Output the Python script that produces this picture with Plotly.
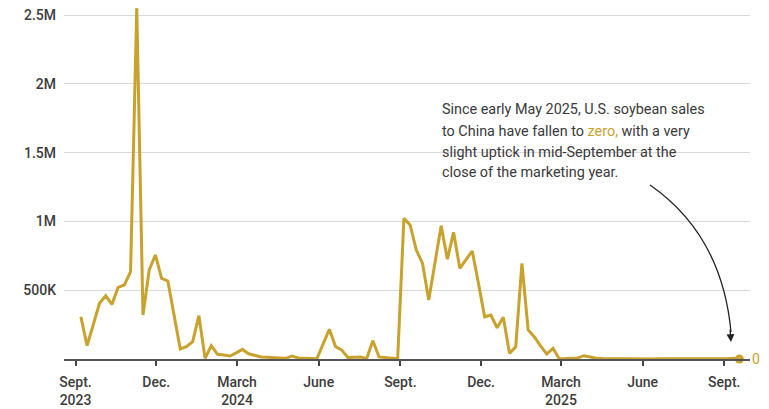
import pandas as pd
import plotly.graph_objects as go

# Weekly U.S. soybean export sales to China (metric tons), Sept 2023 - Sept 2025
week_start = "2023-09-07"
sales_k = [
    307, 97, 250, 405, 460, 397, 521, 538, 634, 2550,
    320, 647, 756, 586, 567, 320, 73, 89, 126, 315,
    5, 97, 34, 29, 22, 45, 70, 38, 25, 15,
    12, 12, 8, 5, 22, 8, 5, 3, 2, 110,
    216, 90, 65, 10, 12, 15, 2, 133, 15, 10,
    8, 2, 1022, 974, 792, 695, 429, 700, 969, 725,
    921, 659, 720, 785, 550, 307, 320, 227, 303, 41,
    89, 695, 211, 160, 95, 36, 78, 2, 3, 4,
    8, 24, 12, 5, 3, 2, 3, 2, 1, 1,
    2, 1, 0, 1, 2, 1, 1, 0, 1, 2,
    1, 0, 1, 1, 2, 6, 0,
]
sales = [v * 1000 for v in sales_k]
weeks = pd.date_range(week_start, periods=len(sales), freq="7D")

x_tick_dates = ["2023-09-01", "2023-12-01", "2024-03-01", "2024-06-01", "2024-09-01",
                "2024-12-01", "2025-03-01", "2025-06-01", "2025-09-01"]
x_tick_labels = ["Sept.<br>2023", "Dec.", "March<br>2024", "June", "Sept.",
                 "Dec.", "March<br>2025", "June", "Sept."]
y_tick_vals = [500000, 1000000, 1500000, 2000000, 2500000]
y_tick_labels = ["500K", "1M", "1.5M", "2M", "2.5M"]

note_lines = [
    "Since early May 2025, U.S. soybean sales",
    "to China have fallen to <span style='color:#C9A22E'>zero,</span> with a very",
    "slight uptick in mid-September at the",
    "close of the marketing year.",
]

GOLD = "#C9A22E"
TEXT = "#3d3d3d"
FONT = "Roboto"

fig = go.Figure()
fig.add_trace(go.Scatter(
    x=weeks, y=sales, mode="lines",
    line=dict(color=GOLD, width=3),
    hoverinfo="skip", showlegend=False,
))
fig.add_trace(go.Scatter(
    x=[weeks[-1]], y=[sales[-1]], mode="markers",
    marker=dict(color=GOLD, size=9),
    hoverinfo="skip", showlegend=False, cliponaxis=False,
))

# end-of-series value label
fig.add_annotation(
    x=weeks[-1], y=sales[-1], text=f"{sales[-1]:,}", showarrow=False,
    xanchor="left", yanchor="middle", xshift=11,
    font=dict(family=FONT, size=14, color=GOLD),
)

# explanatory note
note_y = [0.7034, 0.644, 0.5847, 0.5282]
for line, yy in zip(note_lines, note_y):
    fig.add_annotation(
        xref="paper", yref="paper", x=0.548, y=yy, text=line,
        showarrow=False, xanchor="left", yanchor="middle", align="left",
        font=dict(family=FONT, size=14.4, color="#3a3a3a"),
    )

# curved pointer from the note down to the final week
fig.add_shape(
    type="path", xref="paper", yref="paper",
    path="M 0.8542,0.4915 Q 0.9592,0.3503 0.9723,0.0763",
    line=dict(color="#222222", width=1.3),
)
fig.add_annotation(
    xref="paper", yref="paper", x=0.9723, y=0.048, text="",
    showarrow=True, ax=-1, ay=-14, arrowhead=2, arrowsize=1.2,
    arrowwidth=1.3, arrowcolor="#222222",
)

fig.update_layout(
    width=769, height=409,
    margin=dict(l=64, r=19, t=5, b=50),
    paper_bgcolor="white", plot_bgcolor="white",
    font=dict(family=FONT, size=14, color=TEXT),
    xaxis=dict(
        type="date", range=["2023-08-19", "2025-09-30"],
        tickvals=x_tick_dates, ticktext=x_tick_labels,
        ticks="outside", ticklen=5, tickwidth=1.5, tickcolor="#444444",
        ticklabelstandoff=4, automargin=False,
        showgrid=False, showline=True, linecolor="#555555", linewidth=1.5,
        zeroline=False,
        tickfont=dict(family=FONT, size=14, color=TEXT, weight=500),
    ),
    yaxis=dict(
        range=[0, 2573000], tickvals=y_tick_vals, ticktext=y_tick_labels,
        showgrid=True, gridcolor="#d9d9d9", gridwidth=1,
        zeroline=False, showline=False, ticks="",
        ticklabelstandoff=7, automargin=False,
        tickfont=dict(family=FONT, size=14, color=TEXT, weight=500),
    ),
)

fig.write_html("out.html")
